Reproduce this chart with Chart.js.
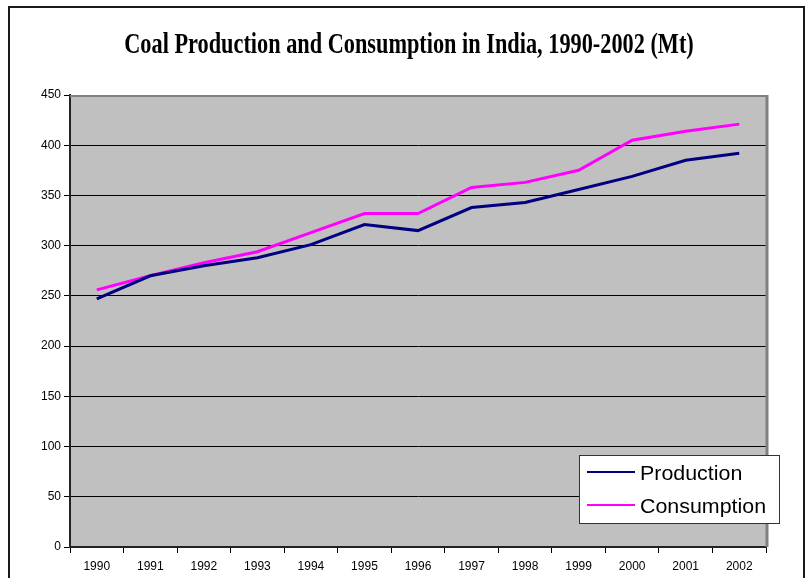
<!DOCTYPE html>
<html>
<head>
<meta charset="utf-8">
<script src="https://cdn.jsdelivr.net/npm/chart.js@4/dist/chart.umd.min.js"></script>
<style>
  html, body { margin: 0; padding: 0; background: #fff; }
  #wrap { width: 811px; height: 578px; }
</style>
</head>
<body>
<div id="wrap"><canvas id="coal-chart" width="811" height="578"></canvas></div>
<script>
// Data (Mt)
const chartTitle = "Coal Production and Consumption in India, 1990-2002 (Mt)";
const years = ["1990", "1991", "1992", "1993", "1994", "1995", "1996", "1997", "1998", "1999", "2000", "2001", "2002"];
const production = [247, 270, 280, 288, 301, 321, 315, 338, 343, 356, 369, 385, 392];
const consumption = [256, 270, 283, 294, 313, 332, 332, 358, 363, 375, 405, 414, 421];
const yTicks = [0, 50, 100, 150, 200, 250, 300, 350, 400, 450];

const axisFont = { family: "'Liberation Sans', Arial, sans-serif", size: 12 };

// grey plot background, plot borders, outer border and the (tall, narrow) title
const frame = {
    id: "frame",
    beforeDraw(chart) {
        const { ctx, chartArea: a } = chart;
        ctx.save();
        ctx.fillStyle = "#c0c0c0";
        ctx.fillRect(a.left, a.top, a.right - a.left, a.bottom - a.top);
        ctx.restore();
    },
    afterDraw(chart) {
        const { ctx, chartArea: a } = chart;
        ctx.save();
        // plot area top / right edge
        ctx.strokeStyle = "#808080";
        ctx.lineWidth = 2;
        ctx.beginPath();
        ctx.moveTo(a.left, a.top + 1);
        ctx.lineTo(a.right, a.top + 1);
        ctx.stroke();
        ctx.lineWidth = 3;
        ctx.beginPath();
        ctx.moveTo(a.right + 1, a.top);
        ctx.lineTo(a.right + 1, a.bottom);
        ctx.stroke();
        // outer chart border
        ctx.strokeStyle = "#1a1a1a";
        ctx.lineWidth = 2;
        ctx.strokeRect(9, 7, 795, 620);
        // title, stretched vertically like the original
        ctx.fillStyle = "#000";
        ctx.font = "bold 22.3px 'Liberation Serif', 'Times New Roman', serif";
        ctx.textAlign = "center";
        ctx.textBaseline = "alphabetic";
        ctx.translate(409, 53);
        ctx.scale(1, 1.29);
        ctx.fillText(chartTitle, 0, 0);
        ctx.restore();
    }
};

// boxed legend sitting on the lower right corner of the plot
const boxLegend = {
    id: "boxLegend",
    afterDraw(chart) {
        const ctx = chart.ctx;
        const x = 579, y = 455, w = 200, h = 68;
        ctx.save();
        ctx.fillStyle = "#fff";
        ctx.fillRect(x, y, w, h);
        ctx.strokeStyle = "#333";
        ctx.lineWidth = 1;
        ctx.strokeRect(x + 0.5, y + 0.5, w, h);
        ctx.textBaseline = "alphabetic";
        chart.data.datasets.forEach((ds, i) => {
            const cy = y + 17 + i * 33;
            ctx.strokeStyle = ds.borderColor;
            ctx.lineWidth = 2;
            ctx.beginPath();
            ctx.moveTo(x + 8, cy);
            ctx.lineTo(x + 56, cy);
            ctx.stroke();
            ctx.save();
            ctx.fillStyle = "#000";
            ctx.font = "20px 'Liberation Sans', Arial, sans-serif";
            ctx.translate(x + 61, cy + 7.5);
            ctx.scale(1.07, 1);
            ctx.fillText(ds.label, 0, 0);
            ctx.restore();
        });
        ctx.restore();
    }
};

new Chart(document.querySelector("#coal-chart"), {
    type: "line",
    data: {
        labels: years,
        datasets: [
            { label: "Production", data: production, borderColor: "#000080", borderWidth: 3, pointRadius: 0, tension: 0 },
            { label: "Consumption", data: consumption, borderColor: "#ff00ff", borderWidth: 3, pointRadius: 0, tension: 0 }
        ]
    },
    options: {
        responsive: false,
        animation: false,
        layout: { padding: { left: 0, right: 45, top: 95, bottom: 0 } },
        plugins: {
            legend: { display: false },
            tooltip: { enabled: false },
            title: { display: false }
        },
        scales: {
            x: {
                offset: true,
                grid: { offset: true, drawOnChartArea: false, color: "#000", tickLength: 6 },
                border: { color: "#222", width: 2 },
                ticks: { color: "#000", font: axisFont, padding: 6, maxRotation: 0 },
                afterFit(scale) { scale.height = 31; }
            },
            y: {
                min: 0,
                max: 450,
                afterBuildTicks(scale) { scale.ticks = yTicks.map(v => ({ value: v })); },
                grid: { color: "#000", lineWidth: 1, tickLength: 6 },
                border: { color: "#222", width: 2 },
                ticks: { color: "#000", font: axisFont, padding: 3 },
                afterFit(scale) { scale.width = 70; }
            }
        }
    },
    plugins: [frame, boxLegend]
});
</script>
</body>
</html>
